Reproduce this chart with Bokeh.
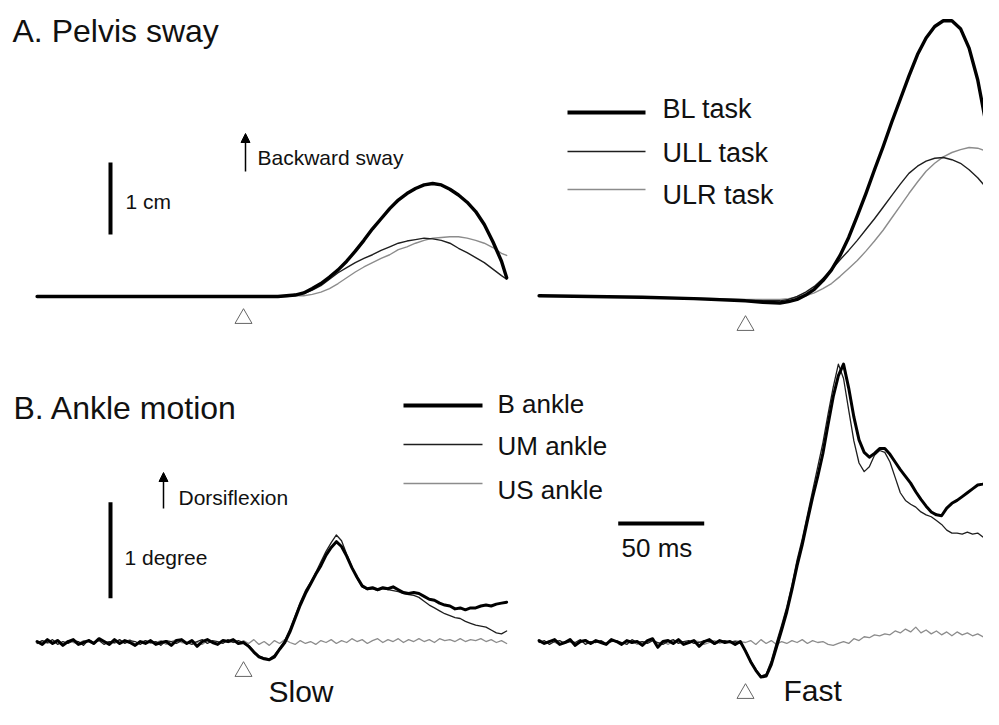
import numpy as np
from bokeh.plotting import figure
from bokeh.models import Range1d, Arrow, NormalHead
from bokeh.core.properties import value
from bokeh.embed import file_html
from bokeh.resources import INLINE

# ---------------- DATA ----------------
# A. Pelvis sway (cm) vs time from movement onset (ms)
pelvis_slow_t = [-120, -60, 0, 10, 15, 20, 25, 30, 35, 40, 45, 50, 55, 60, 65, 70, 75, 80,
                 85, 90, 95, 100, 105, 110, 115, 120, 125, 130, 135, 140, 145, 150, 153]
pelvis_slow_bl = [0, 0, 0, 0, 0.00, 0.00, 0.01, 0.02, 0.05, 0.11, 0.18, 0.27, 0.37, 0.49, 0.63,
                  0.78, 0.94, 1.08, 1.22, 1.34, 1.43, 1.50, 1.55, 1.57, 1.55, 1.49, 1.41, 1.31,
                  1.18, 1.00, 0.76, 0.49, 0.26]
pelvis_slow_ull = [0, 0, 0, 0, 0.00, 0.00, 0.01, 0.03, 0.04, 0.09, 0.15, 0.24, 0.33, 0.40, 0.47,
                   0.53, 0.58, 0.64, 0.69, 0.74, 0.77, 0.79, 0.81, 0.80, 0.78, 0.74, 0.67, 0.61,
                   0.54, 0.47, 0.38, 0.29, 0.24]
pelvis_slow_ulr = [0, 0, 0, 0, 0.00, 0.00, 0.00, 0.01, 0.01, 0.03, 0.06, 0.11, 0.18, 0.26, 0.34,
                   0.41, 0.47, 0.53, 0.58, 0.65, 0.69, 0.74, 0.78, 0.81, 0.82, 0.83, 0.83, 0.81,
                   0.78, 0.74, 0.68, 0.60, 0.57]

pelvis_fast_t = [-120, -90, -60, -30, 0, 10, 20, 25, 30, 35, 40, 45, 50, 55, 60, 65, 70, 75,
                 80, 85, 90, 95, 100, 105, 110, 115, 120, 125, 130, 135, 140, 145]
pelvis_fast_bl = [0.01, 0.00, -0.01, -0.03, -0.06, -0.08, -0.09, -0.07, -0.04, 0.02, 0.10,
                  0.22, 0.37, 0.57, 0.82, 1.12, 1.43, 1.76, 2.08, 2.42, 2.74, 3.06, 3.36, 3.59,
                  3.75, 3.83, 3.83, 3.72, 3.45, 3.01, 2.38, 1.54]
pelvis_fast_ull = [0.01, 0.00, -0.01, -0.03, -0.05, -0.06, -0.06, -0.04, 0.00, 0.06, 0.14,
                   0.25, 0.37, 0.51, 0.64, 0.78, 0.93, 1.08, 1.24, 1.40, 1.56, 1.71, 1.81, 1.88,
                   1.92, 1.93, 1.90, 1.85, 1.76, 1.65, 1.51, 1.36]
pelvis_fast_ulr = [0.01, 0.00, -0.01, -0.02, -0.04, -0.04, -0.04, -0.03, -0.01, 0.01, 0.05,
                   0.11, 0.18, 0.28, 0.39, 0.50, 0.63, 0.77, 0.92, 1.09, 1.26, 1.43, 1.59, 1.74,
                   1.85, 1.94, 2.00, 2.04, 2.07, 2.06, 2.02, 1.96]

# B. Ankle motion (degrees), sampled every 3 ms starting at -120 ms
ANKLE_T0, ANKLE_DT = -120, 3
ankle_slow_b = [0.01, -0.02, 0.03, -0.01, 0.02, -0.03, 0.01, 0.03, -0.02, 0.00,
                0.02, -0.01, 0.04, 0.01, -0.02, 0.03, -0.01, 0.02, 0.00, -0.03,
                0.01, -0.01, 0.02, -0.02, 0.00, 0.01, -0.03, 0.02, 0.03, -0.01,
                0.02, -0.04, 0.01, 0.03, 0.00, -0.02, 0.02, 0.01, 0.03, -0.01,
                0.00, -0.04, -0.10, -0.15, -0.17, -0.18, -0.15, -0.07, 0.00, 0.11,
                0.25, 0.39, 0.51, 0.61, 0.71, 0.80, 0.91, 0.99, 1.05, 1.00,
                0.90, 0.78, 0.68, 0.59, 0.56, 0.57, 0.55, 0.57, 0.56, 0.58,
                0.55, 0.52, 0.51, 0.52, 0.51, 0.48, 0.45, 0.44, 0.41, 0.39,
                0.38, 0.35, 0.36, 0.34, 0.36, 0.36, 0.38, 0.39, 0.38, 0.40,
                0.41, 0.42]
ankle_slow_um = [-0.01, 0.02, 0.00, 0.03, -0.02, 0.01, -0.01, 0.02, 0.01, -0.03,
                 0.03, 0.00, 0.02, -0.02, 0.01, 0.00, 0.03, -0.01, 0.02, 0.01,
                 -0.02, 0.02, 0.00, 0.01, -0.03, 0.02, 0.01, -0.01, 0.02, 0.00,
                 -0.02, 0.01, 0.03, -0.01, 0.02, 0.01, -0.01, 0.03, 0.00, 0.02,
                 0.00, -0.03, -0.09, -0.14, -0.16, -0.17, -0.13, -0.06, 0.02, 0.14,
                 0.28, 0.42, 0.54, 0.63, 0.73, 0.84, 0.95, 1.04, 1.12, 1.06,
                 0.92, 0.79, 0.67, 0.58, 0.55, 0.56, 0.54, 0.56, 0.55, 0.54,
                 0.53, 0.51, 0.50, 0.49, 0.47, 0.43, 0.39, 0.36, 0.33, 0.30,
                 0.28, 0.26, 0.25, 0.22, 0.20, 0.18, 0.17, 0.16, 0.13, 0.10,
                 0.09, 0.12]
ankle_slow_us = [0.00, 0.02, -0.01, 0.01, 0.03, -0.02, 0.02, 0.00, -0.01, 0.02,
                 0.01, -0.02, 0.03, 0.00, 0.01, -0.01, 0.02, 0.00, 0.03, -0.02,
                 0.01, 0.02, -0.01, 0.00, 0.02, -0.02, 0.01, 0.03, 0.00, -0.01,
                 0.02, 0.00, -0.02, 0.02, 0.01, -0.01, 0.03, 0.00, 0.01, -0.01,
                 0.02, -0.01, 0.03, -0.02, 0.01, -0.03, 0.02, -0.01, 0.03, 0.00,
                 -0.02, 0.02, -0.01, 0.01, -0.02, 0.02, 0.00, 0.03, -0.01, 0.02,
                 0.00, 0.04, 0.01, 0.03, -0.01, 0.02, 0.04, 0.00, 0.03, 0.01,
                 0.04, 0.00, 0.03, 0.01, 0.04, 0.01, 0.03, 0.00, 0.04, 0.02,
                 0.03, 0.01, 0.04, 0.01, 0.03, 0.02, 0.04, 0.01, 0.03, 0.00,
                 0.02, -0.01]

ankle_fast_b = [0.02, -0.01, 0.01, 0.03, -0.02, 0.00, 0.03, -0.03, 0.01, 0.02,
                -0.01, 0.02, 0.00, -0.02, 0.03, 0.01, -0.02, 0.02, 0.00, 0.01,
                -0.03, 0.02, 0.04, -0.05, 0.01, 0.02, -0.01, 0.03, -0.02, 0.00,
                0.02, -0.04, 0.01, 0.03, -0.01, 0.02, 0.00, 0.01, -0.02, 0.01,
                -0.09, -0.20, -0.29, -0.36, -0.35, -0.23, -0.05, 0.13, 0.32, 0.55,
                0.80, 1.02, 1.27, 1.51, 1.73, 1.97, 2.27, 2.56, 2.78, 2.90,
                2.65, 2.35, 2.11, 1.98, 1.93, 1.97, 2.02, 2.02, 1.96, 1.88,
                1.80, 1.73, 1.66, 1.57, 1.49, 1.42, 1.36, 1.33, 1.32, 1.40,
                1.45, 1.48, 1.52, 1.56, 1.60, 1.64, 1.65, 1.67, 1.66, 1.64]
ankle_fast_um = [0.00, 0.02, -0.02, 0.01, 0.02, -0.01, 0.01, 0.00, 0.03, -0.02,
                 0.01, 0.00, 0.02, -0.01, 0.01, 0.02, 0.00, -0.02, 0.03, 0.00,
                 0.01, -0.01, 0.02, 0.00, -0.02, 0.01, 0.03, -0.01, 0.01, 0.02,
                 -0.01, 0.00, 0.02, 0.01, -0.02, 0.01, 0.02, 0.00, 0.01, -0.01,
                 -0.08, -0.19, -0.28, -0.35, -0.33, -0.19, 0.00, 0.18, 0.37, 0.60,
                 0.86, 1.08, 1.33, 1.58, 1.83, 2.08, 2.38, 2.66, 2.90, 2.75,
                 2.42, 2.10, 1.87, 1.78, 1.83, 1.95, 2.00, 1.98, 1.88, 1.72,
                 1.56, 1.48, 1.44, 1.41, 1.36, 1.33, 1.31, 1.27, 1.23, 1.17,
                 1.14, 1.14, 1.13, 1.15, 1.13, 1.14, 1.10, 1.08, 1.07, 1.06]
ankle_fast_us = [0.01, -0.01, 0.02, 0.00, -0.02, 0.01, 0.02, -0.01, 0.00, 0.03,
                 -0.01, 0.01, 0.00, -0.02, 0.02, 0.01, -0.01, 0.00, 0.02, -0.02,
                 0.01, 0.00, 0.03, -0.01, 0.01, -0.02, 0.02, 0.00, 0.01, -0.01,
                 0.02, 0.01, -0.02, 0.00, 0.02, -0.01, 0.01, 0.00, 0.02, 0.01,
                 0.00, 0.02, -0.02, 0.03, -0.01, 0.02, -0.02, 0.01, -0.01, 0.02,
                 0.00, 0.03, -0.01, 0.02, 0.00, 0.01, -0.02, -0.03, -0.01, 0.01,
                 -0.01, 0.04, 0.02, 0.06, 0.05, 0.08, 0.07, 0.09, 0.08, 0.12,
                 0.10, 0.14, 0.11, 0.16, 0.10, 0.13, 0.09, 0.12, 0.08, 0.11,
                 0.07, 0.11, 0.08, 0.10, 0.07, 0.09, 0.06, 0.09, 0.07, 0.08]

pelvis_legend = ["BL task", "ULL task", "ULR task"]
ankle_legend = ["B ankle", "UM ankle", "US ankle"]
SCALE_CM, SCALE_DEG, SCALE_MS = 1, 1, 50

# ---------------- LAYOUT ----------------
X0, X1, Y0, Y1 = 0, 983, 0, 709          # visible window in reference pixels
PX_PER_MS = 1.72
ONSET_SLOW_X, ONSET_FAST_X = 243, 745
PELVIS_BASE_Y, PX_PER_CM = 296, 72
ANKLE_BASE_Y, PX_PER_DEG = 642, 96

FONT = value("Liberation Sans")
C_THICK, C_THIN, C_GRAY = "#000000", "#1e1e1e", "#8c8c8c"
W_THICK, W_THIN = 3.4, 1.4

p = figure(width=X1 - X0, height=Y1 - Y0,
           x_range=Range1d(X0, X1), y_range=Range1d(Y1, Y0),
           output_backend="svg", toolbar_location=None, min_border=0,
           x_axis_location=None, y_axis_location=None,
           outline_line_color=None, background_fill_color="white",
           border_fill_color="white")
for g in p.grid:
    g.visible = False

p.extra_x_ranges = {
    "ts": Range1d((X0 - ONSET_SLOW_X) / PX_PER_MS, (X1 - ONSET_SLOW_X) / PX_PER_MS),
    "tf": Range1d((X0 - ONSET_FAST_X) / PX_PER_MS, (X1 - ONSET_FAST_X) / PX_PER_MS),
}
p.extra_y_ranges = {
    "cm": Range1d((PELVIS_BASE_Y - Y1) / PX_PER_CM, (PELVIS_BASE_Y - Y0) / PX_PER_CM),
    "deg": Range1d((ANKLE_BASE_Y - Y1) / PX_PER_DEG, (ANKLE_BASE_Y - Y0) / PX_PER_DEG),
}


def ankle_t(vals):
    return [ANKLE_T0 + ANKLE_DT * k for k in range(len(vals))]


def trace(t, v, xr, yr, color, width):
    p.line(x=t, y=v, x_range_name=xr, y_range_name=yr, line_color=color,
           line_width=width, line_join="round", line_cap="round")


# pelvis traces
for xr, t, series in [("ts", pelvis_slow_t, (pelvis_slow_ulr, pelvis_slow_ull, pelvis_slow_bl)),
                      ("tf", pelvis_fast_t, (pelvis_fast_ulr, pelvis_fast_ull, pelvis_fast_bl))]:
    trace(t, series[0], xr, "cm", C_GRAY, W_THIN)
    trace(t, series[1], xr, "cm", C_THIN, W_THIN)
    trace(t, series[2], xr, "cm", C_THICK, W_THICK)

# ankle traces
for xr, series in [("ts", (ankle_slow_us, ankle_slow_um, ankle_slow_b)),
                   ("tf", (ankle_fast_us, ankle_fast_um, ankle_fast_b))]:
    trace(ankle_t(series[0]), series[0], xr, "deg", C_GRAY, 1.3)
    trace(ankle_t(series[1]), series[1], xr, "deg", C_THIN, 1.3)
    trace(ankle_t(series[2]), series[2], xr, "deg", C_THICK, 3.0)

# onset triangles
tri = dict(marker="triangle", size=17, fill_color=None, line_color="#666666", line_width=1)
p.scatter(x=[0], y=[318], x_range_name="ts", **tri)
p.scatter(x=[0], y=[325], x_range_name="tf", **tri)
p.scatter(x=[0], y=[671], x_range_name="ts", **tri)
p.scatter(x=[0], y=[693], x_range_name="tf", **tri)

# scale bars
p.segment(x0=[110], x1=[110], y0=[0.86], y1=[0.86 + SCALE_CM], y_range_name="cm",
          line_color="black", line_width=4)
p.segment(x0=[110], x1=[110], y0=[0.46], y1=[0.46 + SCALE_DEG], y_range_name="deg",
          line_color="black", line_width=4)
p.segment(x0=[-74], x1=[-74 + SCALE_MS], y0=[523], y1=[523], x_range_name="tf",
          line_color="black", line_width=4)


def txt(x, y_base, s, size):
    # place so that the glyphs' baseline lands at y_base (compensating renderer offset)
    p.text(x=[x], y=[y_base - 0.3 * size], text=[s], text_font=FONT,
           text_font_size=f"{size}px", text_color="#111111",
           text_baseline="alphabetic", text_align="left")


txt(12, 40, "A. Pelvis sway", 32)
txt(13, 417, "B. Ankle motion", 32)
txt(257, 163, "Backward sway", 21)
txt(178, 503, "Dorsiflexion", 21)
txt(125, 207, "1 cm", 21)
txt(124, 563, "1 degree", 21)
txt(621, 555, "50 ms", 26)
txt(268, 700, "Slow", 30)
txt(783, 699, "Fast", 30)

# direction arrows
for ax, ay0, ay1 in [(245, 171, 133), (163, 508, 472)]:
    p.add_layout(Arrow(end=NormalHead(size=9, fill_color="black", line_color="black",
                                      line_width=1),
                       x_start=ax, y_start=ay0, x_end=ax, y_end=ay1,
                       line_color="black", line_width=1.5))

# legends
leg_styles = [(C_THICK, W_THICK + 0.6), (C_THIN, W_THIN), (C_GRAY, W_THIN)]
for (c, w), name, ly, ty in zip(leg_styles, pelvis_legend, [112, 151, 189], [117, 161, 203]):
    p.segment(x0=[567], x1=[645], y0=[ly], y1=[ly], line_color=c, line_width=w)
    txt(662, ty, name, 27)
for (c, w), name, ly, ty in zip(leg_styles, ankle_legend, [405, 444, 483], [411, 453, 497]):
    p.segment(x0=[403], x1=[482], y0=[ly], y1=[ly], line_color=c, line_width=w)
    txt(497, ty, name, 26)

open("out.html", "w").write(file_html(p, INLINE))
